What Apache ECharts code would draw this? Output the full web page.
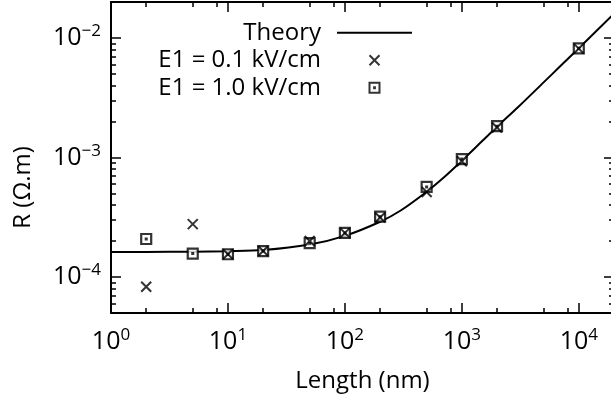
<!DOCTYPE html>
<html><head><meta charset="utf-8">
<script src="https://cdn.jsdelivr.net/npm/echarts@6/dist/echarts.min.js"></script>
<style>html,body{margin:0;padding:0;background:#fff}#c{width:611px;height:400px}</style>
</head><body><div id="c"></div>
<script>
const theoryLength = [1, 2, 5, 10, 20, 50, 100, 200, 300, 500, 700, 1000, 1500, 2000, 3000, 5000, 7000, 10000, 20000];
const theoryR = [1.62e-4, 1.62e-4, 1.63e-4, 1.645e-4, 1.68e-4, 1.87e-4, 2.21e-4, 2.9e-4, 3.6e-4, 5.17e-4, 6.8e-4, 9.4e-4, 1.38e-3, 1.81e-3, 2.62e-3, 4.25e-3, 5.85e-3, 8.2e-3, 1.6e-2];
const sampleLength = [2, 5, 10, 20, 50, 100, 200, 500, 1000, 2000, 10000];
const rLowField = [8.3e-5, 2.77e-4, 1.55e-4, 1.65e-4, 2.0e-4, 2.34e-4, 3.15e-4, 5.15e-4, 9.3e-4, 1.78e-3, 8.15e-3];
const rHighField = [2.08e-4, 1.57e-4, 1.55e-4, 1.65e-4, 1.92e-4, 2.34e-4, 3.2e-4, 5.67e-4, 9.7e-4, 1.83e-3, 8.2e-3];
const xMajorTicks = [1, 10, 100, 1000, 10000];
const xMinorTicks = [2, 5, 8, 20, 50, 80, 200, 500, 800, 2000, 5000, 8000];
const yMajorTicks = [1e-4, 1e-3, 1e-2];
const yMinorTicks = [6e-5, 7e-5, 8e-5, 9e-5, 2e-4, 3e-4, 4e-4, 5e-4, 6e-4, 7e-4, 8e-4, 9e-4, 2e-3, 3e-3, 4e-3, 5e-3, 6e-3, 7e-3, 8e-3, 9e-3];
const names = ['Theory', 'E1 = 0.1 kV/cm', 'E1 = 1.0 kV/cm'];

const FONT = 'Open Sans';
const rich = {
  b: { fontFamily: FONT, fontSize: 25, color: '#000', lineHeight: 30 },
  s: { fontFamily: FONT, fontSize: 17, color: '#000', lineHeight: 17, verticalAlign: 'top' }
};
function powLabel(v) {
  const e = Math.round(Math.log10(v));
  return '{b|10}{s|' + String(e).replace('-', '\u2212') + '}';
}
function xAx(pos, major, labels) {
  return {
    type: 'log', logBase: 10, min: 1, max: 20000, position: pos, gridIndex: 0,
    axisLine: { show: major, onZero: false, lineStyle: { color: '#000', width: 2 } },
    axisTick: { show: true, inside: true, length: major ? 10 : 5, lineStyle: { color: '#000', width: 1.5 },
      customValues: major ? xMajorTicks : xMinorTicks },
    axisLabel: { show: labels, customValues: xMajorTicks, formatter: powLabel, rich: rich, margin: 14 },
    splitLine: { show: false }, minorTick: { show: false }, minorSplitLine: { show: false },
    name: labels ? 'Length (nm)' : '', nameLocation: 'middle', nameGap: 56,
    nameTextStyle: { fontFamily: FONT, fontSize: 24, color: '#000' }
  };
}
function yAx(pos, major, labels) {
  return {
    type: 'log', logBase: 10, min: 5e-5, max: 2e-2, position: pos, gridIndex: 0,
    axisLine: { show: major, onZero: false, lineStyle: { color: '#000', width: 2 } },
    axisTick: { show: true, inside: true, length: major ? 10 : 5, lineStyle: { color: '#000', width: 1.5 },
      customValues: major ? yMajorTicks : yMinorTicks },
    axisLabel: { show: labels, customValues: yMajorTicks, formatter: powLabel, rich: rich, margin: 10 },
    splitLine: { show: false }, minorTick: { show: false }, minorSplitLine: { show: false },
    name: labels ? 'R (\u03A9.m)' : '', nameLocation: 'middle', nameGap: 76,
    nameTextStyle: { fontFamily: FONT, fontSize: 24, color: '#000', padding: [0, 60, 0, 0] }
  };
}

const chart = echarts.init(document.getElementById('c'), null, { renderer: 'canvas' });
chart.setOption({
  animation: false,
  backgroundColor: '#fff',
  grid: { left: 111, top: 2, width: 503, height: 311, containLabel: false, outerBoundsMode: 'none' },
  xAxis: [xAx('bottom', true, true), xAx('bottom', false, false), xAx('top', true, false), xAx('top', false, false)],
  yAxis: [yAx('left', true, true), yAx('left', false, false), yAx('right', true, false), yAx('right', false, false)],
  legend: {
    data: [{ name: names[0], icon: 'path://M0,0H75V2H0Z' }, names[1], names[2]],
    orient: 'vertical', align: 'right', right: 199, top: 19, padding: 0, itemGap: 0,
    itemWidth: 75, itemHeight: 10, selectedMode: false,
    textStyle: { fontFamily: FONT, fontSize: 24, color: '#000', lineHeight: 27.5, padding: [0, 11, 0, 0] }
  },
  series: [
    {
      name: names[0], type: 'line', symbol: 'none', smooth: 0.3, z: 2,
      itemStyle: { color: '#000' },
      lineStyle: { color: '#000', width: 2 },
      data: theoryLength.map((x, i) => [x, theoryR[i]])
    },
    {
      name: names[2], type: 'scatter', z: 3,
      symbol: 'path://M0,0H10V10H0ZM4.6,4.6H5.4V5.4H4.6Z', symbolSize: 10,
      itemStyle: { color: '#fff', borderColor: '#000', borderWidth: 2.2 },
      data: sampleLength.map((x, i) => [x, rHighField[i]])
    },
    {
      name: names[1], type: 'scatter', z: 4,
      symbol: 'path://M0,0L10,10M10,0L0,10', symbolSize: 10,
      itemStyle: { color: 'rgba(0,0,0,0)', borderColor: '#000', borderWidth: 2 },
      data: sampleLength.map((x, i) => [x, rLowField[i]])
    }
  ]
});
</script></body></html>
